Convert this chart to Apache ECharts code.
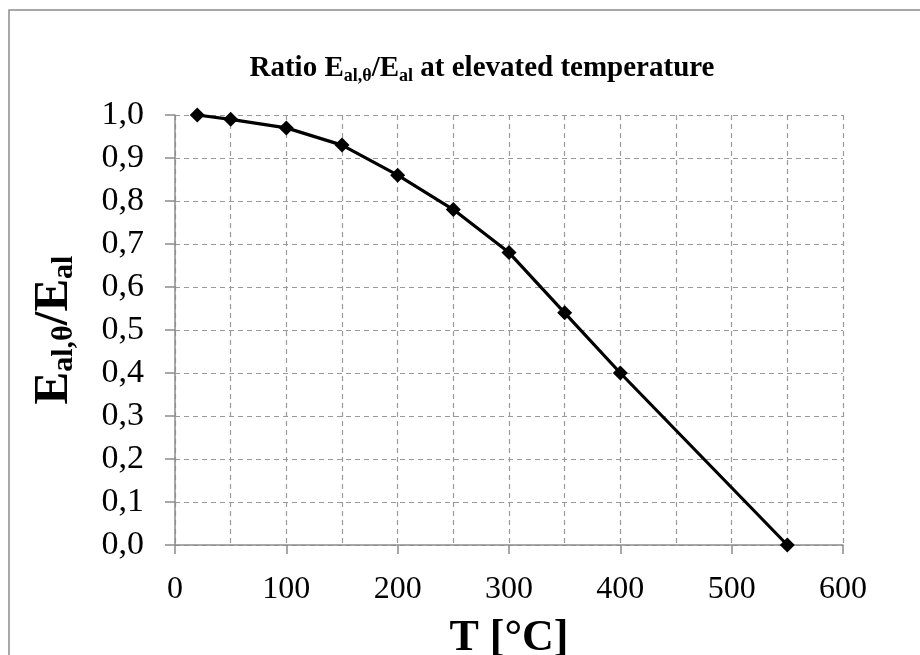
<!DOCTYPE html>
<html>
<head>
<meta charset="utf-8">
<script src="https://cdn.jsdelivr.net/npm/echarts@6/dist/echarts.min.js"></script>
<style>
html,body{margin:0;padding:0;background:#fff;}
#chart{width:920px;height:655px;}
</style>
</head>
<body>
<div id="chart"></div>
<script>
// Data
const temperatures = [20, 50, 100, 150, 200, 250, 300, 350, 400, 550];
const ratios = [1.00, 0.99, 0.97, 0.93, 0.86, 0.78, 0.68, 0.54, 0.40, 0.00];
const xTickLabels = ['0', '100', '200', '300', '400', '500', '600'];
const yTickLabels = ['0,0', '0,1', '0,2', '0,3', '0,4', '0,5', '0,6', '0,7', '0,8', '0,9', '1,0'];

const serif = '"Liberation Serif", "Times New Roman", serif';
const points = temperatures.map((t, i) => [t, ratios[i]]);

const chart = echarts.init(document.getElementById('chart'), null, {renderer: 'canvas'});
chart.setOption({
  backgroundColor: '#ffffff',
  animation: false,
  graphic: [{
    type: 'rect',
    shape: {x: 9, y: 10, width: 1000, height: 1000},
    style: {fill: 'none', stroke: '#8c8c8c', lineWidth: 1.5},
    z: 0
  }],
  title: {
    text: '{m|Ratio E}{s|al,θ}{m|/E}{s|al}{m| at elevated temperature}',
    left: 477,
    textAlign: 'center',
    top: 48,
    textStyle: {
      rich: {
        m: {fontFamily: serif, fontWeight: 'bold', fontSize: 29, color: '#000', lineHeight: 32, verticalAlign: 'middle'},
        s: {fontFamily: serif, fontWeight: 'bold', fontSize: 18, color: '#000', lineHeight: 18, verticalAlign: 'bottom'}
      }
    }
  },
  grid: {left: 175, right: 77, top: 115, bottom: 110, containLabel: false, outerBoundsMode: 'none'},
  xAxis: [{
    type: 'value', min: 0, max: 600, interval: 100,
    axisLine: {show: true, lineStyle: {color: '#8c8c8c', width: 1.5}},
    axisTick: {show: true, inside: false, length: 9, lineStyle: {color: '#8c8c8c', width: 1.5}},
    axisLabel: {
      margin: 29,
      fontFamily: serif, fontSize: 32, color: '#000',
      formatter: (v) => xTickLabels[Math.round(v / 100)]
    },
    splitLine: {show: false},
    name: 'T [°C]',
    nameLocation: 'middle',
    nameGap: 72,
    nameTextStyle: {fontFamily: serif, fontWeight: 'bold', fontSize: 44, color: '#000'}
  }, {
    type: 'value', min: 0, max: 600, interval: 50,
    position: 'bottom',
    axisLine: {show: false}, axisTick: {show: false}, axisLabel: {show: false},
    splitLine: {show: true, lineStyle: {type: [5, 4], color: '#9a9a9a', width: 1.2}}
  }],
  yAxis: {
    type: 'value', min: 0, max: 1, interval: 0.1,
    axisLine: {show: true, lineStyle: {color: '#8c8c8c', width: 1.5}},
    axisTick: {show: true, inside: false, length: 10, lineStyle: {color: '#8c8c8c', width: 1.5}},
    axisLabel: {
      margin: 31,
      fontFamily: serif, fontSize: 34, color: '#000',
      formatter: (v) => yTickLabels[Math.round(v * 10)]
    },
    splitLine: {show: true, lineStyle: {type: [5, 4], color: '#9a9a9a', width: 1.2}},
    name: '{m|E}{s|al,θ}{m|/E}{s|al}',
    nameLocation: 'middle',
    nameGap: 96,
    nameRotate: 90,
    nameTextStyle: {
      rich: {
        m: {fontFamily: serif, fontWeight: 'bold', fontSize: 49, color: '#000', lineHeight: 50, verticalAlign: 'middle'},
        s: {fontFamily: serif, fontWeight: 'bold', fontSize: 30, color: '#000', lineHeight: 30, verticalAlign: 'bottom'}
      }
    }
  },
  series: [{
    type: 'line',
    xAxisIndex: 0,
    data: points,
    symbol: 'diamond',
    symbolSize: 15,
    itemStyle: {color: '#000'},
    lineStyle: {color: '#000', width: 3.2},
    z: 5
  }]
});
</script>
</body>
</html>
